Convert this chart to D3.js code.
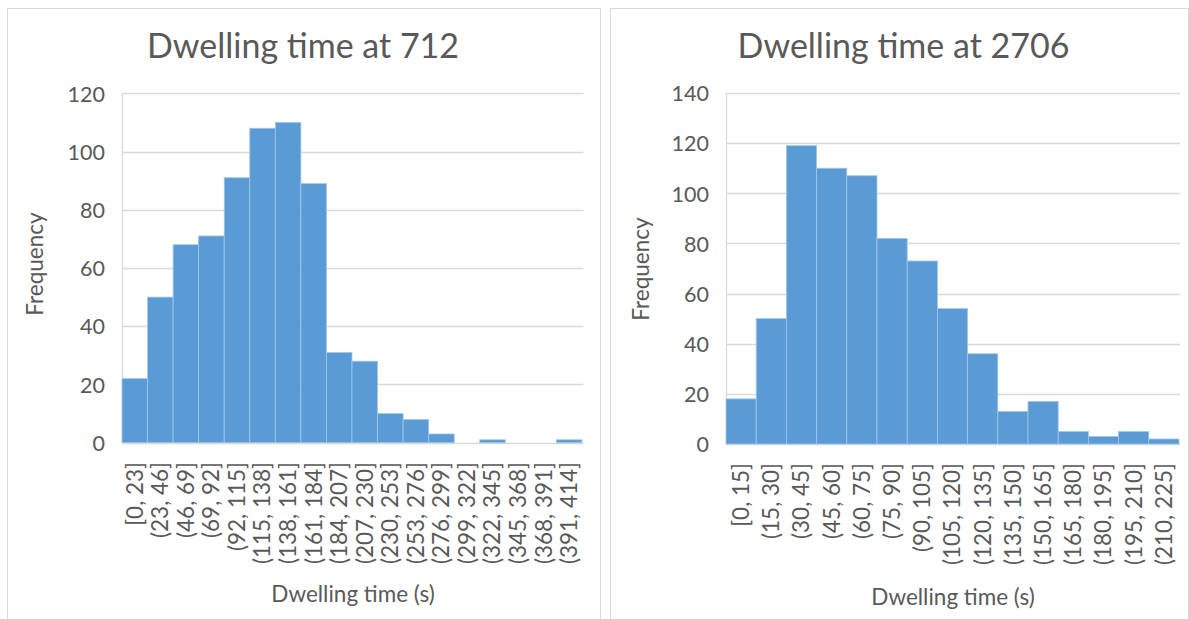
<!DOCTYPE html>
<html>
<head>
<meta charset="utf-8">
<script src="https://cdn.jsdelivr.net/npm/d3@7"></script>
<style>
  html, body { margin: 0; padding: 0; background: #ffffff; }
  svg { display: block; }
  text { font-family: Lato, "Open Sans", sans-serif; fill: #595959; }
</style>
</head>
<body>
<svg id="chart" width="1189" height="619"></svg>
<script>
// Histogram of dwelling times at stop 712
const bins712 = ["[0, 23]", "(23, 46]", "(46, 69]", "(69, 92]", "(92, 115]", "(115, 138]",
  "(138, 161]", "(161, 184]", "(184, 207]", "(207, 230]", "(230, 253]", "(253, 276]",
  "(276, 299]", "(299, 322]", "(322, 345]", "(345, 368]", "(368, 391]", "(391, 414]"];
const freq712 = [22, 50, 68, 71, 91, 108, 110, 89, 31, 28, 10, 8, 3, 0, 1, 0, 0, 1];
const ticks712 = [0, 20, 40, 60, 80, 100, 120];

// Histogram of dwelling times at stop 2706
const bins2706 = ["[0, 15]", "(15, 30]", "(30, 45]", "(45, 60]", "(60, 75]", "(75, 90]",
  "(90, 105]", "(105, 120]", "(120, 135]", "(135, 150]", "(150, 165]", "(165, 180]",
  "(180, 195]", "(195, 210]", "(210, 225]"];
const freq2706 = [18, 50, 119, 110, 107, 82, 73, 54, 36, 13, 17, 5, 3, 5, 2];
const ticks2706 = [0, 20, 40, 60, 80, 100, 120, 140];

const svg = d3.select("#chart");

function drawPanel(opt) {
  const g = svg.append("g");

  // chart frame
  g.append("rect")
    .attr("x", opt.frame[0]).attr("y", opt.frame[1])
    .attr("width", opt.frame[2]).attr("height", opt.frame[3])
    .attr("fill", "#ffffff").attr("stroke", "#d9d9d9").attr("stroke-width", 1);

  const x = d3.scaleBand().domain(opt.bins).range([opt.left, opt.right]).padding(0);
  const y = d3.scaleLinear().domain([0, d3.max(opt.ticks)]).range([opt.bottom, opt.top]);

  // horizontal gridlines
  g.append("g").selectAll("line").data(opt.ticks).join("line")
    .attr("x1", opt.left).attr("x2", opt.gridRight)
    .attr("y1", d => Math.round(y(d)) + 0.5).attr("y2", d => Math.round(y(d)) + 0.5)
    .attr("stroke", "#d9d9d9").attr("stroke-width", 1.3);

  // vertical axis line
  g.append("line")
    .attr("x1", opt.left + 0.5).attr("x2", opt.left + 0.5)
    .attr("y1", y(d3.max(opt.ticks))).attr("y2", opt.bottom)
    .attr("stroke", "#d9d9d9").attr("stroke-width", 1.3);

  // bars
  g.append("g").selectAll("rect").data(opt.values).join("rect")
    .attr("x", (d, i) => x(opt.bins[i]))
    .attr("width", x.bandwidth())
    .attr("y", d => y(d))
    .attr("height", d => y(0) - y(d))
    .attr("fill", "#5b9bd5")
    .attr("stroke", d => d > 0 ? "#a3c6ea" : "none")
    .attr("stroke-width", 0.8);

  // y tick labels
  const yAxis = d3.axisLeft(y).tickValues(opt.ticks).tickSize(0).tickPadding(0);
  const ya = g.append("g").attr("transform", `translate(${opt.yLabelX},0)`).call(yAxis);
  ya.select(".domain").remove();
  ya.selectAll("text")
    .attr("font-family", "Lato, sans-serif").attr("font-size", 21.5)
    .attr("fill", "#595959").attr("dy", "0.36em");

  // x tick labels, rotated
  const xAxis = d3.axisBottom(x).tickSize(0).tickPadding(0);
  const xa = g.append("g").attr("transform", `translate(0,${opt.xLabelY})`).call(xAxis);
  xa.select(".domain").remove();
  xa.selectAll("text")
    .attr("font-family", "Lato, sans-serif").attr("font-size", 22.5)
    .attr("fill", "#595959")
    .attr("transform", "rotate(-90)")
    .attr("text-anchor", "end")
    .attr("x", 0).attr("y", 0).attr("dy", "0.35em");

  // chart title
  g.append("text")
    .attr("x", opt.titleX).attr("y", opt.titleY)
    .attr("text-anchor", "middle").attr("font-size", 34)
    .text(opt.title);

  // axis titles
  g.append("text")
    .attr("x", opt.xTitleX).attr("y", opt.xTitleY)
    .attr("text-anchor", "middle").attr("font-size", 22.5)
    .text("Dwelling time (s)");

  g.append("text")
    .attr("transform", `translate(${opt.yTitleX},${opt.yTitleY}) rotate(-90)`)
    .attr("text-anchor", "middle").attr("font-size", 22.5)
    .text("Frequency");
}

drawPanel({
  title: "Dwelling time at 712",
  bins: bins712, values: freq712, ticks: ticks712,
  frame: [7.5, 8.5, 593, 620],
  left: 122, right: 582, gridRight: 583.5, top: 93.3, bottom: 442.7,
  yLabelX: 105, xLabelY: 462,
  titleX: 303, titleY: 58,
  xTitleX: 353, xTitleY: 601.5,
  yTitleX: 43.3, yTitleY: 264
});

drawPanel({
  title: "Dwelling time at 2706",
  bins: bins2706, values: freq2706, ticks: ticks2706,
  frame: [610.5, 8.5, 578, 620],
  left: 726, right: 1179, gridRight: 1180, top: 93, bottom: 444,
  yLabelX: 709, xLabelY: 463,
  titleX: 903.5, titleY: 58,
  xTitleX: 953, xTitleY: 605,
  yTitleX: 649, yTitleY: 269
});
</script>
</body>
</html>
